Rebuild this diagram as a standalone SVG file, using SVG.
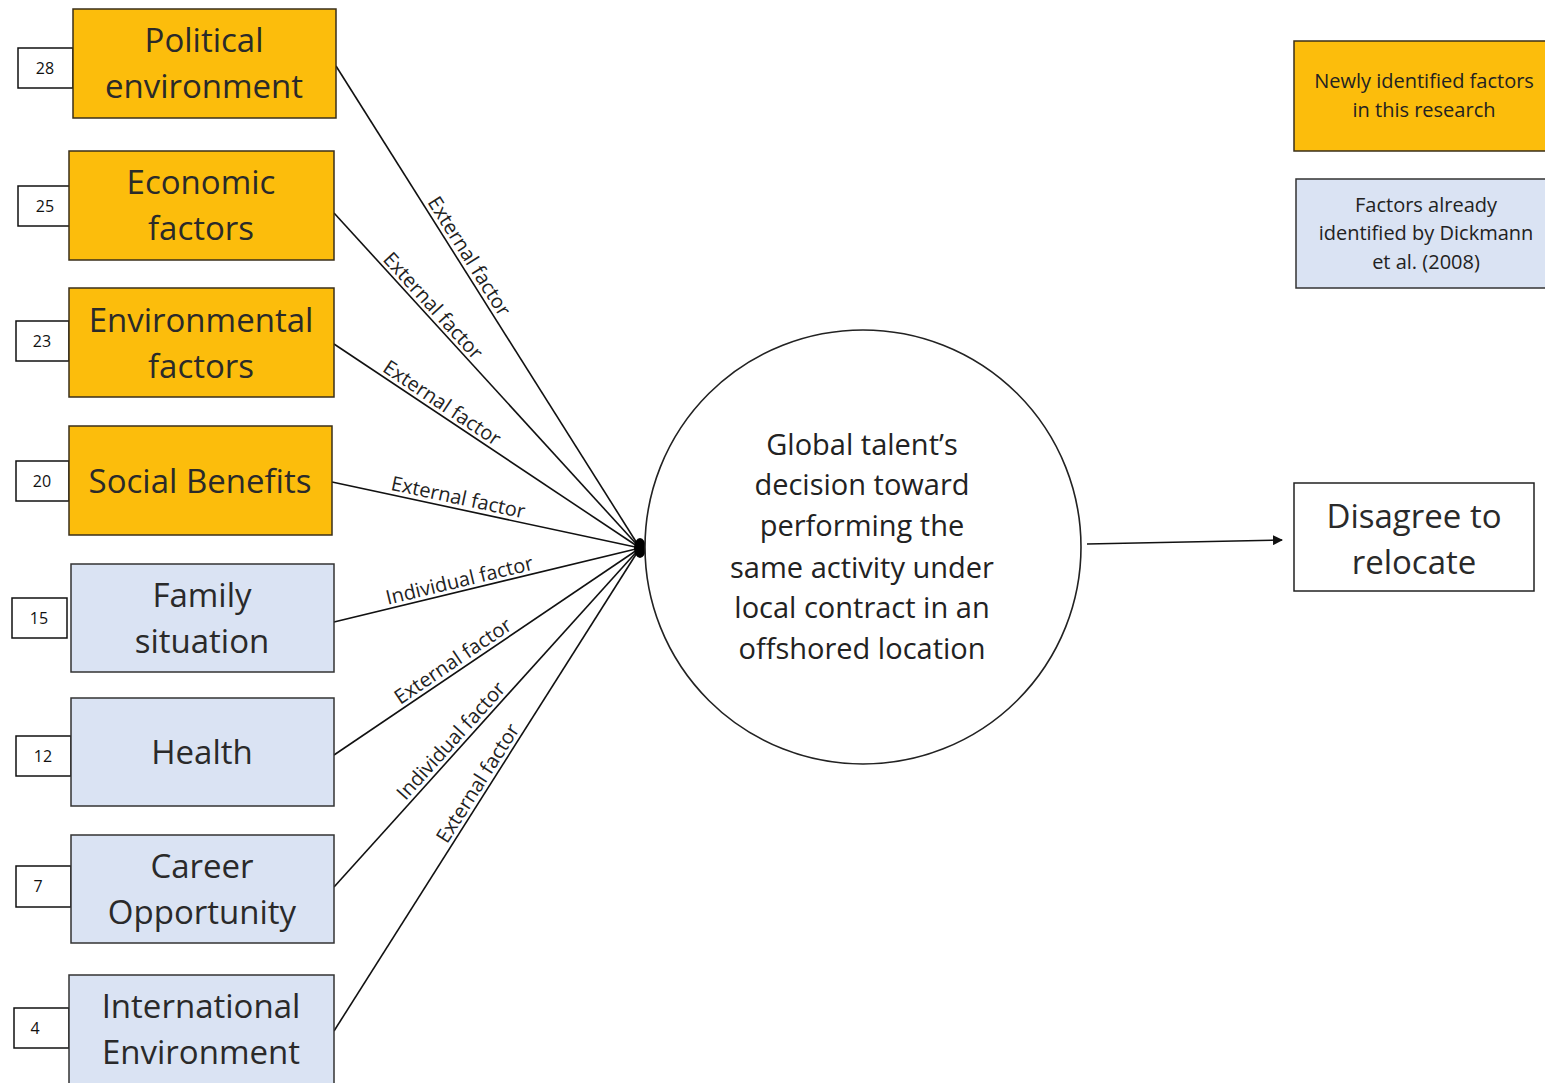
<svg xmlns="http://www.w3.org/2000/svg" width="1545" height="1083" viewBox="0 0 1545 1083">
<style>
.new{fill:#FCBD0C;stroke:#3a2f1a;stroke-width:1.5}
.old{fill:#DAE3F3;stroke:#333;stroke-width:1.5}
.num{fill:#fff;stroke:#111;stroke-width:1.5}
.bt{font-family:"Open Sans",sans-serif;font-size:33px;fill:#2a2a2a;text-anchor:middle}
.nt{font-family:"Open Sans",sans-serif;font-size:16px;fill:#111;text-anchor:middle}
.lt{font-family:"Open Sans",sans-serif;font-size:20px;fill:#222;text-anchor:middle}
.ct{font-family:"Open Sans",sans-serif;font-size:29px;fill:#222;text-anchor:middle}
.gt{font-family:"Open Sans",sans-serif;font-size:20px;fill:#222;text-anchor:middle}
.ln{stroke:#111;stroke-width:1.6;fill:none}
</style>
<defs>
<marker id="ah" viewBox="0 0 10 10" refX="9" refY="5" markerWidth="10" markerHeight="10" markerUnits="userSpaceOnUse" orient="auto">
<path d="M0,0 L10,5 L0,10 z" fill="#111"/>
</marker>
</defs>
<rect width="1545" height="1083" fill="#fff"/>
<g id="connectors">
<line class="ln" x1="336" y1="66" x2="640" y2="548"/>
<line class="ln" x1="334" y1="213" x2="640" y2="548"/>
<line class="ln" x1="334" y1="344" x2="640" y2="548"/>
<line class="ln" x1="332" y1="482" x2="640" y2="548"/>
<line class="ln" x1="334" y1="622" x2="640" y2="548"/>
<line class="ln" x1="334" y1="755" x2="640" y2="548"/>
<line class="ln" x1="334" y1="887" x2="640" y2="548"/>
<line class="ln" x1="334" y1="1031" x2="640" y2="548"/>
<ellipse cx="640" cy="548" rx="6" ry="10" fill="#000"/>
<line class="ln" x1="1087" y1="544" x2="1282" y2="540" marker-end="url(#ah)"/>
<text class="lt" transform="translate(460,262) rotate(57.8)" y="-4">External factor</text>
<text class="lt" transform="translate(425,313) rotate(47.6)" y="-4">External factor</text>
<text class="lt" transform="translate(436,412) rotate(33.7)" y="-4">External factor</text>
<text class="lt" transform="translate(456,508) rotate(12.1)" y="-4">External factor</text>
<text class="lt" transform="translate(462,591) rotate(-13.6)" y="-4">Individual factor</text>
<text class="lt" transform="translate(459,670) rotate(-34.1)" y="-4">External factor</text>
<text class="lt" transform="translate(459,748) rotate(-47.9)" y="-4">Individual factor</text>
<text class="lt" transform="translate(487,789) rotate(-57.6)" y="-4">External factor</text>
</g>
<g id="n-political">
<rect class="num" x="18" y="48" width="55" height="40"/>
<text class="nt" x="45" y="74">28</text>
<rect class="new" x="73" y="9" width="263" height="109"/>
<text class="bt" x="204" y="52">Political</text>
<text class="bt" x="204" y="98">environment</text>
</g>
<g id="n-economic">
<rect class="num" x="18" y="186" width="55" height="40"/>
<text class="nt" x="45" y="212">25</text>
<rect class="new" x="69" y="151" width="265" height="109"/>
<text class="bt" x="201" y="194">Economic</text>
<text class="bt" x="201" y="240">factors</text>
</g>
<g id="n-environmental">
<rect class="num" x="16" y="321" width="53" height="40"/>
<text class="nt" x="42" y="347">23</text>
<rect class="new" x="69" y="288" width="265" height="109"/>
<text class="bt" x="201" y="332">Environmental</text>
<text class="bt" x="201" y="378">factors</text>
</g>
<g id="n-social">
<rect class="num" x="16" y="461" width="53" height="40"/>
<text class="nt" x="42" y="487">20</text>
<rect class="new" x="69" y="426" width="263" height="109"/>
<text class="bt" x="200" y="493">Social Benefits</text>
</g>
<g id="n-family">
<rect class="num" x="12" y="598" width="55" height="40"/>
<text class="nt" x="39" y="624">15</text>
<rect class="old" x="71" y="564" width="263" height="108"/>
<text class="bt" x="202" y="607">Family</text>
<text class="bt" x="202" y="653">situation</text>
</g>
<g id="n-health">
<rect class="num" x="16" y="736" width="55" height="40"/>
<text class="nt" x="43" y="762">12</text>
<rect class="old" x="71" y="698" width="263" height="108"/>
<text class="bt" x="202" y="764">Health</text>
</g>
<g id="n-career">
<rect class="num" x="16" y="866" width="55" height="41"/>
<text class="nt" x="38" y="892">7</text>
<rect class="old" x="71" y="835" width="263" height="108"/>
<text class="bt" x="202" y="878">Career</text>
<text class="bt" x="202" y="924">Opportunity</text>
</g>
<g id="n-international">
<rect class="num" x="14" y="1008" width="55" height="40"/>
<text class="nt" x="35" y="1034">4</text>
<rect class="old" x="69" y="975" width="265" height="112"/>
<text class="bt" x="201" y="1018">International</text>
<text class="bt" x="201" y="1064">Environment</text>
</g>
<g id="n-decision">
<ellipse cx="863" cy="547" rx="218" ry="217" fill="#fff" stroke="#222" stroke-width="1.6"/>
<text class="ct" x="862" y="455">Global talent’s</text>
<text class="ct" x="862" y="495">decision toward</text>
<text class="ct" x="862" y="536">performing the</text>
<text class="ct" x="862" y="578">same activity under</text>
<text class="ct" x="862" y="618">local contract in an</text>
<text class="ct" x="862" y="659">offshored location</text>
</g>
<g id="n-disagree">
<rect x="1294" y="483" width="240" height="108" fill="#fff" stroke="#222" stroke-width="1.5"/>
<text class="bt" x="1414" y="528">Disagree to</text>
<text class="bt" x="1414" y="574">relocate</text>
</g>
<g id="legend-new">
<rect class="new" x="1294" y="41" width="255" height="110"/>
<text class="gt" x="1424" y="88">Newly identified factors</text>
<text class="gt" x="1424" y="117">in this research</text>
</g>
<g id="legend-old">
<rect class="old" x="1296" y="179" width="253" height="109"/>
<text class="gt" x="1426" y="212">Factors already</text>
<text class="gt" x="1426" y="240">identified by Dickmann</text>
<text class="gt" x="1426" y="269">et al. (2008)</text>
</g>
</svg>
